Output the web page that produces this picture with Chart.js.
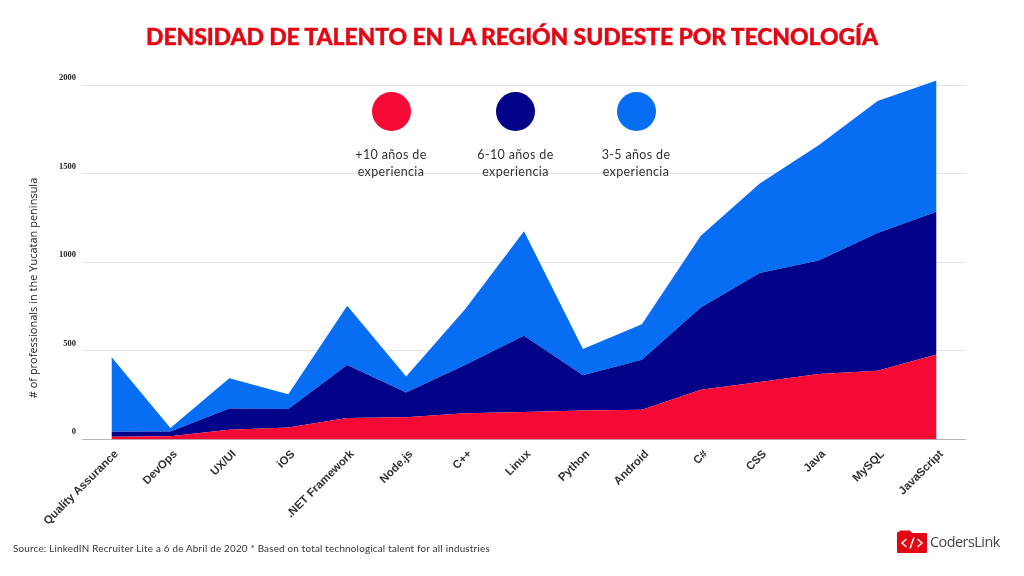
<!DOCTYPE html>
<html>
<head>
<meta charset="utf-8">
<script src="https://cdn.jsdelivr.net/npm/chart.js@4"></script>
<style>
html, body { margin:0; padding:0; background:#fff; width:1024px; height:576px; overflow:hidden; }
#wrap { position:relative; width:1024px; height:576px; }
#wrap canvas { position:absolute; left:0; top:0; }
#title { position:absolute; left:0; top:22px; width:1024px; text-align:center; font:900 23px/28px Lato, sans-serif; letter-spacing:-.11px; color:#e30613; -webkit-text-stroke:.35px #e30613; white-space:nowrap; }
.legend-item { position:absolute; top:92px; width:120px; margin-left:-60px; text-align:center; font:12.5px/17px Lato, sans-serif; letter-spacing:.35px; color:#333; }
.legend-item i { display:block; width:39px; height:39px; border-radius:50%; margin:0 auto 15px; }
#source { position:absolute; left:13px; top:541px; font:9.8px/14px Lato, sans-serif; letter-spacing:.235px; color:#333; white-space:nowrap; }
#logo { position:absolute; left:896px; top:530px; }
#logo span { position:absolute; left:34px; top:2px; font:14.4px/20px "Open Sans", sans-serif; color:#444; letter-spacing:-.5px; }
</style>
</head>
<body>
<div id="wrap">
	<canvas id="chart" width="1024" height="576"></canvas>
	<div id="title">DENSIDAD DE TALENTO EN LA REGIÓN SUDESTE POR TECNOLOGÍA</div>
	<div id="legend"></div>
	<div id="source">Source: LinkedIN Recruiter Lite a 6 de Abril de 2020 * Based on total technological talent for all industries</div>
	<div id="logo">
		<svg width="32" height="24" viewBox="0 0 32 24">
			<path d="M1 3 Q1 2 2 2 L3 2 L4 0.5 L14 0.5 L16 3 L30 3 Q31 3 31 4 L31 22 Q31 23 30 23 L2 23 Q1 23 1 22 Z" fill="#e30613"/>
			<path d="M10.5 9 L6 13 L10.5 17 M21.5 9 L26 13 L21.5 17 M18 7.5 L14 18.5" fill="none" stroke="#fff" stroke-width="1.5"/>
		</svg>
		<span>CodersLink</span>
	</div>
</div>
<script>
const categories = ['Quality Assurance','DevOps','UX/UI','iOS','.NET Framework','Node.js','C++','Linux','Python','Android','C#','CSS','Java','MySQL','JavaScript']
const senior = [15,18,55,68,122,125,148,155,163,168,280,325,370,388,480]
const mid = [29,27,120,104,298,140,272,430,199,282,465,615,640,777,805]
const junior = [421,20,170,83,335,90,315,590,148,200,405,505,650,745,740]
const yTicks = [0,500,1000,1500,2000]
const seriesNames = ['+10 años de experiencia','6-10 años de experiencia','3-5 años de experiencia']
const seriesColors = ['#f50a35','#03038a','#076df2']
const legendX = [391,515.5,636]
const yTitle = '# of professionals in the Yucatan peninsula'

// legend sits inside the plot, two lines per entry
const legendEl = document.getElementById('legend')
seriesNames.forEach((name, i) => {
	const item = document.createElement('div')
	item.className = 'legend-item'
	item.style.left = legendX[i] + 'px'
	const dot = document.createElement('i')
	dot.style.background = seriesColors[i]
	item.appendChild(dot)
	const cut = name.indexOf(' experiencia')
	item.appendChild(document.createTextNode(name.slice(0, cut)))
	item.appendChild(document.createElement('br'))
	item.appendChild(document.createTextNode(name.slice(cut + 1)))
	legendEl.appendChild(item)
})

// y labels sit above their grid lines, the axis can't do that itself
const yLabels = {
	id:'yLabels',
	afterDraw(chart){
		const { ctx, scales:{ y } } = chart
		ctx.save()
		ctx.fillStyle = '#222'
		ctx.font = 'bold 8.5px "Liberation Serif", serif'
		ctx.textAlign = 'right'
		ctx.textBaseline = 'middle'
		for(const v of yTicks) ctx.fillText(String(v), 76, y.getPixelForValue(v) - 7.3)
		ctx.translate(34, 288)
		ctx.rotate(-Math.PI / 2)
		ctx.textAlign = 'center'
		ctx.fillStyle = '#222'
		ctx.font = '11px "Open Sans", sans-serif'
		ctx.fillText(yTitle, 0, 0)
		ctx.restore()
	}
}

function dataset(label, data, color, fill){
	return { label, data, fill, backgroundColor:color, borderWidth:0, pointRadius:0, tension:0 }
}

new Chart(document.getElementById('chart'), {
	type:'line',
	data:{
		labels:categories,
		datasets:[
			dataset(seriesNames[0], senior, seriesColors[0], 'origin'),
			dataset(seriesNames[1], mid, seriesColors[1], '-1'),
			dataset(seriesNames[2], junior, seriesColors[2], '-1')
		]
	},
	plugins:[yLabels],
	options:{
		responsive:false,
		animation:false,
		layout:{ padding:{ left:0, right:58, top:67.3, bottom:0 } },
		plugins:{
			legend:{ display:false },
			tooltip:{ enabled:false }
		},
		scales:{
			x:{
				offset:true,
				afterFit: scale => { scale.height = 136.5 },
				grid:{ display:false },
				border:{ display:false },
				ticks:{
					autoSkip:false,
					minRotation:45,
					maxRotation:45,
					padding:0,
					labelOffset:5,
					color:'#333',
					font:{ family:'"Liberation Sans", sans-serif', size:11.4, weight:'bold' }
				}
			},
			y:{
				stacked:true,
				min:0,
				max:2100,
				afterFit: scale => { scale.width = 82 },
				afterBuildTicks: scale => { scale.ticks = yTicks.map(value => ({ value })) },
				border:{ display:false },
				grid:{
					drawTicks:false,
					color: c => c.tick && c.tick.value === 0 ? '#b5b5b5' : '#e2e2e2'
				},
				ticks:{ display:false }
			}
		}
	}
})
</script>
</body>
</html>
